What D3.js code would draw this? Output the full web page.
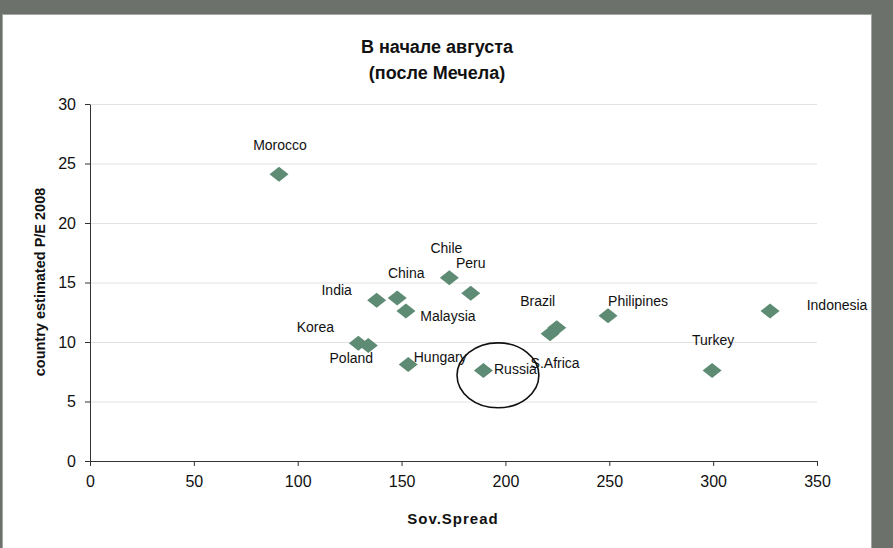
<!DOCTYPE html>
<html><head><meta charset="utf-8">
<script src="https://cdn.jsdelivr.net/npm/d3@7"></script>
<style>html,body{margin:0;padding:0;background:#fff;}svg{display:block;}</style>
</head><body><svg id="c" width="893" height="548"></svg>
<script>
const countries = ["Morocco","India","China","Malaysia","Chile","Peru","Korea","Poland","Hungary","Russia","S.Africa","Brazil","Philipines","Turkey","Indonesia"];
const spread = [91.0,138.0,147.9,152.1,173.0,183.3,129.2,134.0,153.2,189.4,221.5,224.7,249.4,299.5,327.4];
const pe = [24.1,13.5,13.7,12.6,15.4,14.1,9.9,9.7,8.1,7.6,10.7,11.2,12.2,7.6,12.6];
const xTicks = [0,50,100,150,200,250,300,350];
const yTicks = [0,5,10,15,20,25,30];
const titleLines = ["В начале августа","(после Мечела)"];
const xTitle = "Sov.Spread";
const yTitle = "country estimated P/E 2008";
// label placement offsets (px) relative to the marker
const labelDx = [1,-40,9,42,-3,0,-43,-17,32,32,5,-19,30,1,67];
const labelDy = [-24,-5,-20,10,-25,-25,-11,17,-3,3,34,-22,-10,-26,-1];
// annotation ellipse around Russia (data coords)
const ring = {cx:196.4, cy:7.2, rx:19.7, ry:2.73};

const svg = d3.select("#c");
const W=893,H=548;
const x = d3.scaleLinear().domain([0,350]).range([90,817]);
const y = d3.scaleLinear().domain([0,30]).range([461,104]);
const font = "'Liberation Sans', Arial, sans-serif";

// frame
svg.append("rect").attr("x",0).attr("y",0).attr("width",W).attr("height",H).attr("fill","#6c716c");
svg.append("rect").attr("x",2).attr("y",14).attr("width",870).attr("height",H-14).attr("fill","#a3a6a3");
svg.append("rect").attr("x",3).attr("y",15).attr("width",868).attr("height",H-15).attr("fill","#ffffff");

// gridlines
svg.append("g").selectAll("line").data(yTicks.filter(d=>d>0)).join("line")
  .attr("x1",x(0)).attr("x2",x(350)).attr("y1",d=>y(d)+0.5).attr("y2",d=>y(d)+0.5)
  .attr("stroke","#e2e2e2").attr("stroke-width",1);

// axes
const xAxis = svg.append("g").attr("transform",`translate(0,${y(0)})`)
  .call(d3.axisBottom(x).tickValues(xTicks).tickSize(5).tickPadding(10).tickSizeOuter(0));
const yAxis = svg.append("g").attr("transform",`translate(${x(0)},0)`)
  .call(d3.axisLeft(y).tickValues(yTicks).tickSize(5).tickPadding(9).tickSizeOuter(0));
[xAxis,yAxis].forEach(g=>{
  g.select(".domain").attr("stroke","#333").attr("stroke-width",1);
  g.selectAll(".tick line").attr("stroke","#333");
  g.selectAll("text").attr("font-family",font).attr("font-size",16).attr("fill","#111");
});

// title
svg.append("g").selectAll("text").data(titleLines).join("text")
  .attr("x",437).attr("y",(d,i)=>53+i*26).attr("text-anchor","middle")
  .attr("font-family",font).attr("font-size",18).attr("font-weight","bold").attr("fill","#111")
  .text(d=>d);

// axis titles
svg.append("text").attr("x",453).attr("y",524).attr("text-anchor","middle")
  .attr("font-family",font).attr("font-size",15).attr("font-weight","bold").attr("letter-spacing",1).attr("fill","#111")
  .text(xTitle);
svg.append("text").attr("transform","translate(45,282) rotate(-90)").attr("text-anchor","middle")
  .attr("font-family",font).attr("font-size",14.5).attr("font-weight","bold").attr("fill","#111")
  .text(yTitle);

// points
const pts = countries.map((c,i)=>({c,sx:spread[i],pe:pe[i],dx:labelDx[i],dy:labelDy[i]}));
svg.append("g").selectAll("path").data(pts).join("path")
  .attr("d",d=>{const cx=x(d.sx),cy=y(d.pe),a=9.5,b=7.5;return `M${cx-a},${cy}L${cx},${cy-b}L${cx+a},${cy}L${cx},${cy+b}Z`;})
  .attr("fill","#5e8b74");

// labels
svg.append("g").selectAll("text").data(pts).join("text")
  .attr("x",d=>x(d.sx)+d.dx).attr("y",d=>y(d.pe)+d.dy).attr("text-anchor","middle")
  .attr("font-family",font).attr("font-size",14).attr("fill","#111")
  .text(d=>d.c);

// annotation ring
svg.append("ellipse").attr("cx",x(ring.cx)).attr("cy",y(ring.cy))
  .attr("rx",x(ring.rx)-x(0)).attr("ry",y(0)-y(ring.ry))
  .attr("fill","none").attr("stroke","#111").attr("stroke-width",1.6);
</script></body></html>
